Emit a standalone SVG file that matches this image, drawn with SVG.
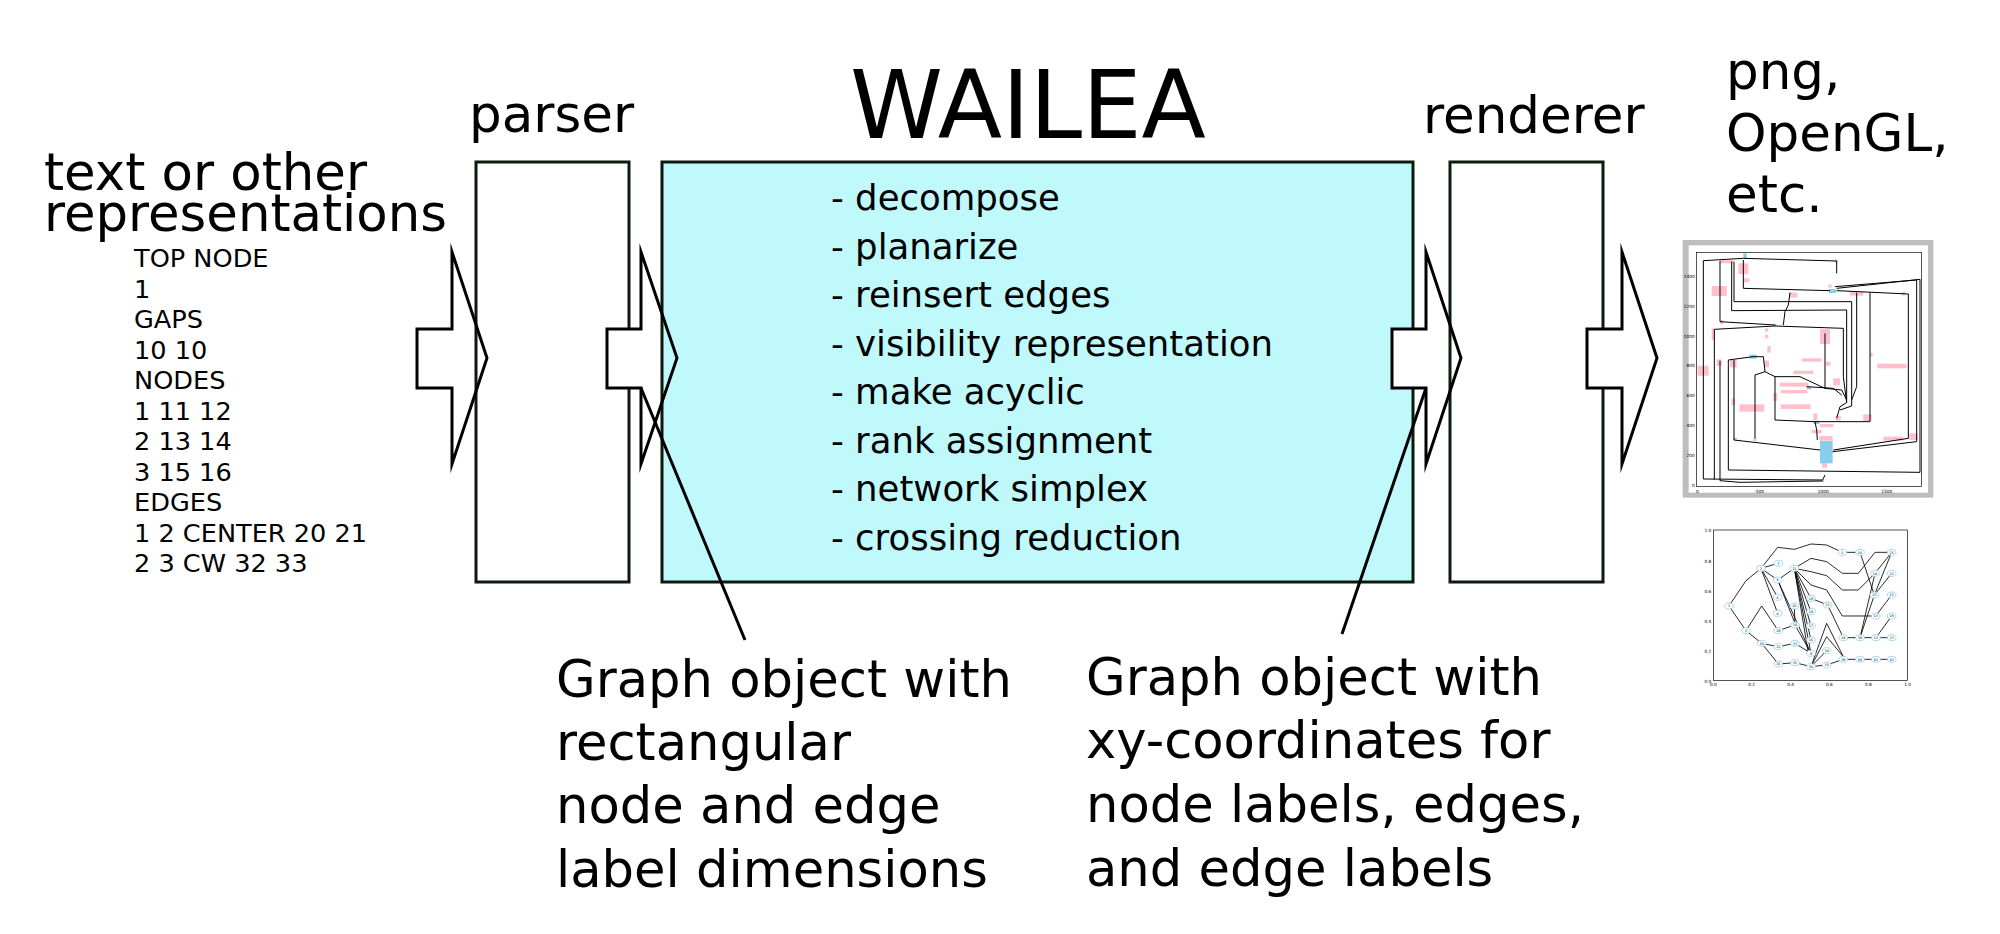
<svg xmlns="http://www.w3.org/2000/svg" width="2000" height="934" viewBox="0 0 2000 934">
<style>
.t{font-family:"DejaVu Sans","Liberation Sans",sans-serif;fill:#000}
.box{stroke:#0b1b0b;stroke-width:3}
.arr{fill:none;stroke:#000;stroke-width:3;stroke-linejoin:miter;stroke-miterlimit:10}
.tail{fill:#fff;stroke:none}
.con{stroke:#000;stroke-width:3;fill:none}
.pl{fill:none;stroke:#000;stroke-width:3}
.pk{fill:#ffc0cb}
.bl{fill:#87ceeb}
.tk{font-family:"DejaVu Sans",sans-serif;font-size:13px;fill:#000}
.nd{fill:#fff;stroke:#8fd3f0;stroke-width:2.5}
.nl{font-family:"DejaVu Sans",sans-serif;font-size:10px;fill:#000;text-anchor:middle}
.e2{fill:none;stroke:#000;stroke-width:2.5}
</style>
<rect width="2000" height="934" fill="#fff"/>

<g id="input-text">
<text class="t" font-size="51.3" x="44" y="190">text or other</text>
<text class="t" font-size="51.3" x="44" y="231">representations</text>
<g class="t" font-size="25.6">
<text x="134" y="267">TOP NODE</text>
<text x="134" y="297.5">1</text>
<text x="134" y="328">GAPS</text>
<text x="134" y="358.5">10 10</text>
<text x="134" y="389">NODES</text>
<text x="134" y="419.5">1 11 12</text>
<text x="134" y="450">2 13 14</text>
<text x="134" y="480.5">3 15 16</text>
<text x="134" y="511">EDGES</text>
<text x="134" y="541.5">1 2 CENTER 20 21</text>
<text x="134" y="572">2 3 CW 32 33</text>
</g>
</g>

<g id="parser">
<rect class="box" x="476" y="162" width="153" height="420" fill="#fff"/>
<text class="t" font-size="51.5" x="469" y="132">parser</text>
</g>

<g id="wailea">
<rect class="box" x="662" y="162" width="751" height="420" fill="#bff9fc"/>
<text class="t" font-size="94" x="850" y="138">WAILEA</text>
<g class="t" font-size="35.5">
<text x="831" y="210">- decompose</text>
<text x="831" y="258.5">- planarize</text>
<text x="831" y="307">- reinsert edges</text>
<text x="831" y="355.5">- visibility representation</text>
<text x="831" y="404">- make acyclic</text>
<text x="831" y="452.5">- rank assignment</text>
<text x="831" y="501">- network simplex</text>
<text x="831" y="549.5">- crossing reduction</text>
</g>
</g>

<g id="renderer">
<rect class="box" x="1450" y="162" width="153" height="420" fill="#fff"/>
<text class="t" font-size="51.5" x="1423" y="133">renderer</text>
</g>

<g id="output-text">
<text class="t" font-size="51.5" x="1726" y="89">png,</text>
<text class="t" font-size="51.5" x="1726" y="151">OpenGL,</text>
<text class="t" font-size="51.5" x="1726" y="212">etc.</text>
</g>

<g id="arrows">
<rect class="tail" x="417" y="329" width="35" height="59"/>
<polygon class="arr" points="452,252 452,329 417,329 417,388 452,388 452,464 487,358"/>
<rect class="tail" x="607" y="329" width="34" height="59"/>
<polygon class="arr" points="641,252 641,329 607,329 607,388 641,388 641,464 677,358"/>
<rect class="tail" x="1392" y="329" width="34" height="59"/>
<polygon class="arr" points="1426,252 1426,329 1392,329 1392,388 1426,388 1426,464 1461,358"/>
<rect class="tail" x="1587" y="329" width="35" height="59"/>
<polygon class="arr" points="1622,252 1622,329 1587,329 1587,388 1622,388 1622,464 1657,358"/>
</g>

<g id="connectors">
<line class="con" x1="641" y1="388" x2="745" y2="640"/>
<line class="con" x1="1426" y1="388" x2="1342" y2="634"/>
</g>

<g id="note-left" class="t" font-size="51.2">
<text x="556" y="697">Graph object with</text>
<text x="556" y="760">rectangular</text>
<text x="556" y="823">node and edge</text>
<text x="556" y="887">label dimensions</text>
</g>
<g id="note-right" class="t" font-size="51.2">
<text x="1086" y="695">Graph object with</text>
<text x="1086" y="758">xy-coordinates for</text>
<text x="1086" y="822">node labels, edges,</text>
<text x="1086" y="886">and edge labels</text>
</g>

<g id="plot-1" transform="translate(1660,220) scale(0.33333)">
<rect x="68" y="60" width="752" height="773" fill="#bdbdbd"/>
<rect x="86" y="76" width="718" height="742" fill="#fff"/>
<g>
<rect class="pk" x="235" y="130" width="30" height="32"/>
<rect class="pk" x="155" y="198" width="45" height="30"/>
<rect class="pk" x="113" y="437" width="33" height="30"/>
<rect class="pk" x="480" y="327" width="30" height="45"/>
<rect class="pk" x="238" y="553" width="75" height="22"/>
<rect class="pk" x="652" y="431" width="88" height="14"/>
<rect class="pk" x="362" y="553" width="90" height="14"/>
<rect class="pk" x="425" y="415" width="60" height="10"/>
<rect class="pk" x="400" y="452" width="60" height="10"/>
<rect class="pk" x="360" y="488" width="85" height="12"/>
<rect class="pk" x="362" y="510" width="80" height="10"/>
<rect class="pk" x="180" y="300" width="10" height="12"/>
<rect class="pk" x="155" y="325" width="8" height="35"/>
<rect class="pk" x="340" y="520" width="12" height="22"/>
<rect class="pk" x="215" y="535" width="10" height="20"/>
<rect class="pk" x="322" y="378" width="10" height="20"/>
<rect class="pk" x="312" y="422" width="15" height="20"/>
<rect class="pk" x="210" y="420" width="20" height="22"/>
<rect class="pk" x="170" y="418" width="15" height="20"/>
<rect class="pk" x="387" y="218" width="25" height="15"/>
<rect class="pk" x="570" y="215" width="40" height="12"/>
<rect class="pk" x="725" y="216" width="10" height="10"/>
<rect class="pk" x="497" y="425" width="15" height="12"/>
<rect class="pk" x="520" y="475" width="20" height="20"/>
<rect class="pk" x="610" y="583" width="25" height="20"/>
<rect class="pk" x="527" y="587" width="15" height="15"/>
<rect class="pk" x="460" y="580" width="12" height="20"/>
<rect class="pk" x="480" y="612" width="40" height="10"/>
<rect class="pk" x="455" y="630" width="30" height="10"/>
<rect class="pk" x="478" y="648" width="40" height="14"/>
<rect class="pk" x="670" y="650" width="60" height="12"/>
<rect class="pk" x="748" y="640" width="25" height="20"/>
<rect class="pk" x="486" y="728" width="15" height="15"/>
<rect class="pk" x="250" y="175" width="18" height="12"/>
<rect class="pk" x="315" y="325" width="10" height="10"/>
<rect class="pk" x="630" y="398" width="8" height="12"/>
<rect class="pk" x="525" y="118" width="8" height="10"/>
<rect class="pk" x="180" y="120" width="40" height="10"/>
<rect class="pk" x="505" y="193" width="10" height="10"/>
<rect class="pk" x="315" y="345" width="10" height="10"/>
<rect class="pk" x="280" y="653" width="10" height="10"/>
<rect class="pk" x="220" y="652" width="10" height="10"/>
<rect class="bl" x="250" y="100" width="10" height="15"/>
<rect class="bl" x="507" y="207" width="22" height="12"/>
<rect class="bl" x="343" y="311" width="6" height="9"/>
<rect class="bl" x="268" y="404" width="22" height="12"/>
<rect class="bl" x="440" y="500" width="14" height="8"/>
<rect class="bl" x="460" y="602" width="18" height="10"/>
<rect class="bl" x="480" y="663" width="38" height="67"/>
</g>
<g class="pl">
<polyline points="495,765 488,780 130,777 130,122 250,115"/>
<polyline points="163,778 163,328 345,318"/>
<polyline points="180,123 180,305 345,315"/>
<polyline points="180,422 180,782 240,787 490,783"/>
<polyline points="205,420 205,750 780,757 780,178 530,205"/>
<polyline points="222,420 222,660 480,690"/>
<polyline points="520,690 745,655 745,222"/>
<polyline points="518,695 770,665 770,180 525,200"/>
<polyline points="250,115 530,123 530,160"/>
<polyline points="250,120 250,205 510,212"/>
<polyline points="215,125 215,272 560,270 560,548 540,560 530,595"/>
<polyline points="222,125 222,245 575,245 575,558 540,570"/>
<polyline points="345,318 550,325 550,470 560,548"/>
<polyline points="390,218 385,255 375,275 370,315"/>
<polyline points="205,420 280,410 310,410 315,455"/>
<polyline points="285,655 285,465 315,455 345,470 420,470 495,505"/>
<polyline points="345,470 345,600 465,605"/>
<polyline points="465,605 630,605 630,218"/>
<polyline points="590,218 590,500 575,540"/>
<polyline points="495,340 495,505 545,510 560,540"/>
<polyline points="465,605 470,630 472,660"/>
<polyline points="440,500 520,505 545,525"/>
<polyline points="530,212 745,222"/>
</g>
<rect x="110" y="97" width="675" height="703" fill="none" stroke="#000" stroke-width="2"/>
<g class="tk" text-anchor="middle">
<text x="112" y="818">0</text>
<text x="300" y="818">500</text>
<text x="490" y="818">1000</text>
<text x="680" y="818">1500</text>
</g>
<g class="tk" text-anchor="end">
<text x="104" y="175">1400</text>
<text x="104" y="263">1200</text>
<text x="104" y="353">1000</text>
<text x="104" y="442">800</text>
<text x="104" y="532">600</text>
<text x="104" y="622">400</text>
<text x="104" y="712">200</text>
<text x="104" y="802">0</text>
</g>
</g>

<g id="plot-2" transform="translate(1680,510) scale(0.33333)">
<g class="e2">
<polyline points="147,288 198,212 243,175"/>
<polyline points="147,288 198,362"/>
<polyline points="198,362 245,288 295,362"/>
<polyline points="198,362 245,400"/>
<polyline points="245,400 295,410"/>
<polyline points="245,400 295,462"/>
<polyline points="295,410 345,400"/>
<polyline points="295,462 345,458"/>
<polyline points="345,458 393,470"/>
<polyline points="345,400 393,430"/>
<polyline points="295,362 345,345"/>
<polyline points="243,175 295,160"/>
<polyline points="243,175 293,210"/>
<polyline points="243,175 293,262"/>
<polyline points="243,175 293,310"/>
<polyline points="243,175 293,112 343,118 393,102 440,105 487,127"/>
<polyline points="487,127 540,127"/>
<polyline points="540,127 583,255"/>
<polyline points="293,210 343,175"/>
<polyline points="293,210 345,340"/>
<polyline points="293,210 393,430"/>
<polyline points="343,175 393,265"/>
<polyline points="343,175 393,305"/>
<polyline points="343,175 393,348"/>
<polyline points="343,175 393,390"/>
<polyline points="343,175 393,430"/>
<polyline points="343,175 385,430"/>
<polyline points="343,175 393,145 440,155 487,190 535,190 585,127 635,127"/>
<polyline points="343,175 393,185 440,197 487,240 535,240 585,190"/>
<polyline points="343,175 393,225 440,240 487,318 540,318 587,318"/>
<polyline points="393,265 443,285"/>
<polyline points="443,285 490,383"/>
<polyline points="490,383 540,383 588,383 635,383"/>
<polyline points="540,383 585,190"/>
<polyline points="540,383 583,255"/>
<polyline points="588,383 635,318"/>
<polyline points="587,318 635,255"/>
<polyline points="583,255 635,190"/>
<polyline points="583,255 635,127"/>
<polyline points="585,190 635,127"/>
<polyline points="393,470 440,465"/>
<polyline points="440,465 490,448"/>
<polyline points="393,470 440,422"/>
<polyline points="393,470 440,340 490,440"/>
<polyline points="393,470 440,380 490,440"/>
<polyline points="490,448 540,448 588,448 635,448"/>
<polyline points="345,345 393,430"/>
<polyline points="343,288 345,345"/>
</g>
<g>
<ellipse class="nd" cx="147" cy="288" rx="13" ry="9"/><text class="nl" x="147" y="292">1</text>
<ellipse class="nd" cx="198" cy="362" rx="13" ry="9"/><text class="nl" x="198" y="366">3</text>
<ellipse class="nd" cx="243" cy="175" rx="13" ry="9"/><text class="nl" x="243" y="179">2</text>
<ellipse class="nd" cx="295" cy="160" rx="13" ry="9"/><text class="nl" x="295" y="164">7</text>
<ellipse class="nd" cx="293" cy="210" rx="13" ry="9"/><text class="nl" x="293" y="214">8</text>
<ellipse class="nd" cx="293" cy="262" rx="13" ry="9"/><text class="nl" x="293" y="266">6</text>
<ellipse class="nd" cx="293" cy="310" rx="13" ry="9"/><text class="nl" x="293" y="314">4</text>
<ellipse class="nd" cx="295" cy="362" rx="13" ry="9"/><text class="nl" x="295" y="366">29</text>
<ellipse class="nd" cx="245" cy="400" rx="13" ry="9"/><text class="nl" x="245" y="404">30</text>
<ellipse class="nd" cx="295" cy="410" rx="13" ry="9"/><text class="nl" x="295" y="414">32</text>
<ellipse class="nd" cx="295" cy="462" rx="13" ry="9"/><text class="nl" x="295" y="466">31</text>
<ellipse class="nd" cx="343" cy="175" rx="13" ry="9"/><text class="nl" x="343" y="179">11</text>
<ellipse class="nd" cx="343" cy="288" rx="13" ry="9"/><text class="nl" x="343" y="292">10</text>
<ellipse class="nd" cx="345" cy="345" rx="13" ry="9"/><text class="nl" x="345" y="349">20</text>
<ellipse class="nd" cx="345" cy="400" rx="13" ry="9"/><text class="nl" x="345" y="404">37</text>
<ellipse class="nd" cx="345" cy="458" rx="13" ry="9"/><text class="nl" x="345" y="462">35</text>
<ellipse class="nd" cx="393" cy="265" rx="13" ry="9"/><text class="nl" x="393" y="269">19</text>
<ellipse class="nd" cx="393" cy="305" rx="13" ry="9"/><text class="nl" x="393" y="309">18</text>
<ellipse class="nd" cx="393" cy="348" rx="13" ry="9"/><text class="nl" x="393" y="352">17</text>
<ellipse class="nd" cx="393" cy="390" rx="13" ry="9"/><text class="nl" x="393" y="394">16</text>
<ellipse class="nd" cx="393" cy="430" rx="13" ry="9"/><text class="nl" x="393" y="434">9</text>
<ellipse class="nd" cx="393" cy="470" rx="13" ry="9"/><text class="nl" x="393" y="474">36</text>
<ellipse class="nd" cx="443" cy="285" rx="13" ry="9"/><text class="nl" x="443" y="289">21</text>
<ellipse class="nd" cx="440" cy="422" rx="13" ry="9"/><text class="nl" x="440" y="426">34</text>
<ellipse class="nd" cx="440" cy="465" rx="13" ry="9"/><text class="nl" x="440" y="469">33</text>
<ellipse class="nd" cx="487" cy="127" rx="13" ry="9"/><text class="nl" x="487" y="131">5</text>
<ellipse class="nd" cx="490" cy="383" rx="13" ry="9"/><text class="nl" x="490" y="387">24</text>
<ellipse class="nd" cx="490" cy="448" rx="13" ry="9"/><text class="nl" x="490" y="452">39</text>
<ellipse class="nd" cx="540" cy="127" rx="13" ry="9"/><text class="nl" x="540" y="131">26</text>
<ellipse class="nd" cx="540" cy="383" rx="13" ry="9"/><text class="nl" x="540" y="387">38</text>
<ellipse class="nd" cx="540" cy="448" rx="13" ry="9"/><text class="nl" x="540" y="452">40</text>
<ellipse class="nd" cx="585" cy="190" rx="13" ry="9"/><text class="nl" x="585" y="194">14</text>
<ellipse class="nd" cx="583" cy="255" rx="13" ry="9"/><text class="nl" x="583" y="259">23</text>
<ellipse class="nd" cx="587" cy="318" rx="13" ry="9"/><text class="nl" x="587" y="322">13</text>
<ellipse class="nd" cx="588" cy="383" rx="13" ry="9"/><text class="nl" x="588" y="387">12</text>
<ellipse class="nd" cx="588" cy="448" rx="13" ry="9"/><text class="nl" x="588" y="452">41</text>
<ellipse class="nd" cx="635" cy="127" rx="13" ry="9"/><text class="nl" x="635" y="131">25</text>
<ellipse class="nd" cx="635" cy="190" rx="13" ry="9"/><text class="nl" x="635" y="194">22</text>
<ellipse class="nd" cx="635" cy="255" rx="13" ry="9"/><text class="nl" x="635" y="259">15</text>
<ellipse class="nd" cx="635" cy="318" rx="13" ry="9"/><text class="nl" x="635" y="322">28</text>
<ellipse class="nd" cx="635" cy="383" rx="13" ry="9"/><text class="nl" x="635" y="387">27</text>
<ellipse class="nd" cx="635" cy="448" rx="13" ry="9"/><text class="nl" x="635" y="452">42</text>
</g>
<rect x="100" y="60" width="583" height="452" fill="none" stroke="#000" stroke-width="2"/>
<g class="tk" text-anchor="middle">
<text x="100" y="528">0.0</text>
<text x="215" y="528">0.2</text>
<text x="332" y="528">0.4</text>
<text x="448" y="528">0.6</text>
<text x="565" y="528">0.8</text>
<text x="683" y="528">1.0</text>
</g>
<g class="tk" text-anchor="end">
<text x="94" y="65">1.0</text>
<text x="94" y="158">0.8</text>
<text x="94" y="248">0.6</text>
<text x="94" y="338">0.4</text>
<text x="94" y="428">0.2</text>
<text x="94" y="518">0.0</text>
</g>
</g>
</svg>
